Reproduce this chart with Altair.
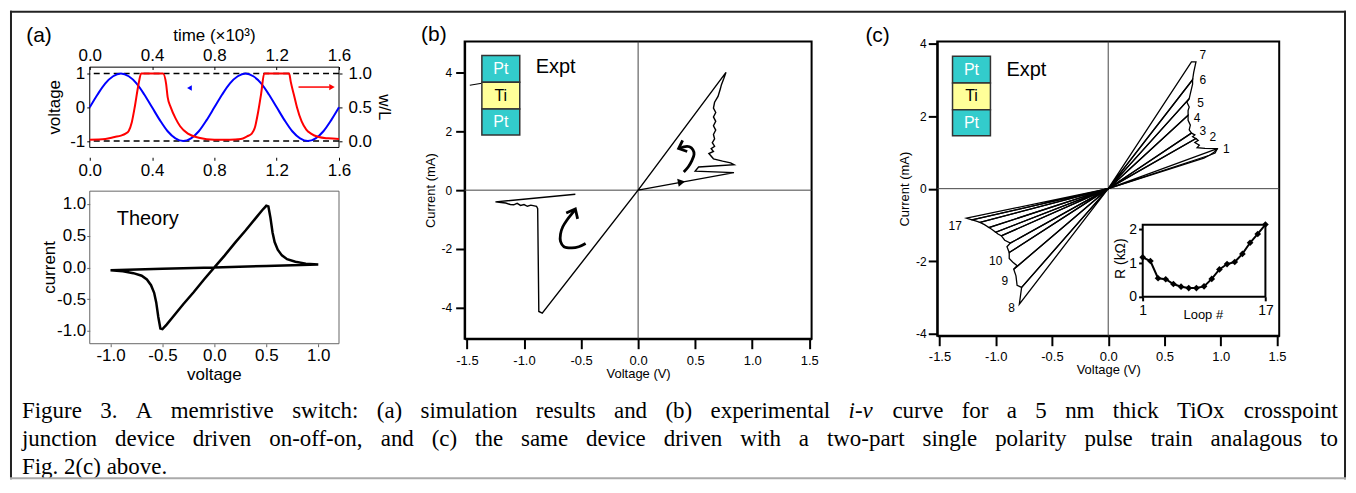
import altair as alt
import pandas as pd

SANS = "Liberation Sans"
SERIF = "Liberation Serif"

# ---------------- (a) upper: voltage and w/L versus time ----------------
t_blue = [0.0, 0.05, 0.1, 0.15, 0.2, 0.25, 0.3, 0.35, 0.4, 0.45, 0.5, 0.55, 0.6, 0.65, 0.7, 0.75, 0.8,
          0.85, 0.9, 0.95, 1.0, 1.05, 1.1, 1.15, 1.2, 1.25, 1.3, 1.35, 1.4, 1.45, 1.5, 1.55, 1.6]
v_blue = [0.0, 0.38, 0.71, 0.92, 1.0, 0.92, 0.71, 0.38, 0.0, -0.38, -0.71, -0.92, -1.0, -0.92, -0.71, -0.38, 0.0,
          0.38, 0.71, 0.92, 1.0, 0.92, 0.71, 0.38, 0.0, -0.38, -0.71, -0.92, -1.0, -0.92, -0.71, -0.38, 0.0]
t_red = [0.0, 0.1, 0.16, 0.2, 0.23, 0.25, 0.27, 0.29, 0.31, 0.33, 0.47, 0.49, 0.5, 0.52, 0.55, 0.58, 0.63, 0.7,
         0.8, 0.9, 0.97, 1.01, 1.04, 1.06, 1.08, 1.1, 1.12, 1.28, 1.29, 1.31, 1.33, 1.36, 1.39, 1.42, 1.47,
         1.53, 1.6]
w_red = [0.02, 0.03, 0.06, 0.08, 0.11, 0.15, 0.28, 0.52, 0.8, 1.0, 1.0, 0.85, 0.65, 0.5, 0.34, 0.22, 0.11, 0.05,
         0.02, 0.02, 0.03, 0.07, 0.11, 0.2, 0.42, 0.7, 1.0, 1.0, 0.88, 0.69, 0.5, 0.29, 0.17, 0.11, 0.06,
         0.04, 0.03]
a_guides = [-1.0, 1.0]
a_top_box_t = [0.0, 1.6]
a_top_box_v = [-1.19, 1.19]
blue_arrow_t = [0.64]
blue_arrow_v = [0.57]
red_arrow_t = [1.34, 1.54]
red_arrow_w = [0.80, 0.80]
red_head_t = [1.555]
red_head_w = [0.80]

# ---------------- (a) lower: theory i-v loop ----------------
th_v = [0.0, 0.1, 0.2, 0.3, 0.4, 0.46, 0.5, 0.52, 0.54, 0.56, 0.58, 0.61, 0.65, 0.7, 0.78, 0.88, 1.0,
        0.5, 0.0, -0.5, -1.0, -0.88, -0.78, -0.7, -0.65, -0.61, -0.58, -0.56, -0.54, -0.52, -0.5, -0.46,
        -0.4, -0.3, -0.2, -0.1, 0.0]
th_i = [0.0, 0.19, 0.39, 0.58, 0.78, 0.9, 0.97, 0.96, 0.78, 0.55, 0.4, 0.28, 0.19, 0.13, 0.09, 0.06, 0.045,
        0.022, 0.0, -0.022, -0.045, -0.06, -0.09, -0.13, -0.19, -0.28, -0.4, -0.55, -0.78, -0.96, -0.97, -0.9,
        -0.78, -0.58, -0.39, -0.19, 0.0]
a_bot_box = [-1.2, 1.2]

# ---------------- (b) experimental i-v ----------------
b_v = [0.0, 0.84, 0.50, 0.53, 0.84, 0.81, 0.74, 0.66, 0.62, 0.66, 0.64, 0.67, 0.65, 0.67, 0.66, 0.68, 0.66,
       0.68, 0.66, 0.68, 0.66, 0.67, 0.70, 0.72, 0.73, 0.75, 0.77, 0.0, -0.84, -0.87, -0.88, -0.89, -0.94,
       -0.97, -1.0, -1.03, -1.06, -1.09, -1.12, -1.16, -1.20, -1.25, -0.55]
b_i = [0.0, 0.60, 0.65, 0.79, 0.87, 0.93, 0.99, 1.07, 1.25, 1.32, 1.42, 1.50, 1.62, 1.75, 1.90, 2.05, 2.20,
       2.35, 2.50, 2.65, 2.80, 3.00, 3.20, 3.45, 3.60, 3.80, 4.02, 0.0, -4.20, -4.14, -0.63, -0.55, -0.51,
       -0.55, -0.49, -0.52, -0.45, -0.50, -0.49, -0.44, -0.42, -0.40, -0.14]
b_head_v = [0.38]
b_head_i = [0.275]
arrow_id = [1, 1, 1, 1, 1, 1, 1, 1, 2, 2, 2, 2, 2, 2, 2, 2, 2, 2]
arrow_v = [0.40, 0.44, 0.47, 0.49, 0.48, 0.45, 0.40, 0.36,
           -0.46, -0.52, -0.58, -0.65, -0.68, -0.68, -0.66, -0.62, -0.58, -0.55]
arrow_i = [0.62, 0.80, 1.00, 1.22, 1.38, 1.48, 1.48, 1.42,
           -1.82, -1.93, -1.97, -1.93, -1.75, -1.50, -1.25, -1.00, -0.80, -0.66]
barb_id = [1, 1, 1, 2, 2, 2]
barb_v = [0.39, 0.355, 0.43, -0.63, -0.55, -0.53]
barb_i = [1.70, 1.42, 1.32, -0.78, -0.64, -0.98]
lead_v = [-1.475, -1.37]
lead_i = [3.58, 3.65]

layer_names = ["Pt", "Ti", "Pt"]
b_layer_lo = [3.68, 2.77, 1.88]
b_layer_hi = [4.60, 3.68, 2.77]
b_layer_x = [-1.369, -1.037]
c_layer_lo = [2.91, 2.17, 1.46]
c_layer_hi = [3.65, 2.91, 2.17]
c_layer_x = [-1.384, -1.047]

# ---------------- (c) pulse-train loops ----------------
c_loops_v = [
    [0, 0.85, 0.90, 0.94, 0.97, 0],
    [0, 0.90, 0.95, 0.97, 0.86, 0.79, 0.81, 0.77, 0.80, 0.78, 0],
    [0, 0.78, 0.75, 0.77, 0.74, 0],
    [0, 0.74, 0.72, 0.73, 0.71, 0.71, 0],
    [0, 0.71, 0.71, 0.72, 0.70, 0.72, 0],
    [0, 0.72, 0.73, 0.74, 0.75, 0.75, 0],
    [0, 0.75, 0.76, 0.77, 0.78, 0.74, 0],
    [0, -0.79, -0.77, 0],
    [0, -0.77, -0.81, -0.82, -0.84, 0],
    [0, -0.84, -0.81, -0.85, -0.88, -0.88, 0],
    [0, -0.88, -0.90, -0.87, 0],
    [0, -0.87, -0.92, -0.95, 0],
    [0, -0.95, -0.98, -1.00, 0],
    [0, -1.00, -1.03, -1.06, 0],
    [0, -1.06, -1.10, -1.14, 0],
    [0, -1.14, -1.18, -1.21, 0],
    [0, -1.21, -1.24, -1.26, 0],
]
c_loops_i = [
    [0, 0.84, 0.92, 1.00, 1.10, 0],
    [0, 0.92, 0.98, 1.10, 1.11, 1.13, 1.20, 1.27, 1.33, 1.38, 0],
    [0, 1.38, 1.43, 1.48, 1.53, 0],
    [0, 1.53, 1.62, 1.75, 1.88, 2.02, 0],
    [0, 2.02, 2.15, 2.25, 2.38, 2.48, 0],
    [0, 2.48, 2.62, 2.75, 2.88, 3.00, 0],
    [0, 3.00, 3.20, 3.35, 3.49, 3.49, 0],
    [0, -3.18, -2.72, 0],
    [0, -2.72, -2.66, -2.40, -2.22, 0],
    [0, -2.22, -2.12, -2.02, -1.92, -1.76, 0],
    [0, -1.76, -1.60, -1.50, 0],
    [0, -1.50, -1.42, -1.30, 0],
    [0, -1.30, -1.25, -1.20, 0],
    [0, -1.20, -1.13, -1.07, 0],
    [0, -1.07, -0.99, -0.93, 0],
    [0, -0.93, -0.89, -0.86, 0],
    [0, -0.86, -0.83, -0.81, 0],
]
loop_labels = ["1", "2", "3", "4", "5", "6", "7", "8", "9", "10", "17"]
loop_label_v = [1.05, 0.93, 0.84, 0.79, 0.82, 0.84, 0.84, -0.86, -0.92, -1.0, -1.36]
loop_label_i = [1.10, 1.43, 1.58, 1.95, 2.36, 2.99, 3.69, -3.30, -2.55, -1.98, -1.02]

loop_no = list(range(1, 18))
loop_R = [1.17, 1.06, 0.55, 0.52, 0.38, 0.30, 0.26, 0.26, 0.31, 0.53, 0.81, 0.97, 1.03, 1.27, 1.60, 1.86, 2.14]
inset_box_x = [1, 17]
inset_box_y = [0, 2.13]

caption = [
    "Figure 3. A memristive switch: (a) simulation results and (b) experimental i-v curve for a 5 nm thick TiOx crosspoint",
    "junction device driven on-off-on, and (c) the same device driven with a two-part single polarity pulse train analagous to",
    "Fig. 2(c) above.",
]
italic_words = ["i-v"]

# =====================================================================
# Secondary layers leave the axis unset (axis=None in any layer would
# disable the merged axis of a shared scale).
ONE = alt.Data(values=[{"one": 1}])


def txt(df, xs, ys, size, **kw):
    return alt.Chart(df).mark_text(font=SANS, fontSize=size, color="black", **kw).encode(
        x=alt.X("x:Q", scale=xs), y=alt.Y("y:Q", scale=ys), text="s:N")


def box(xr, yr, xs, ys, color, width):
    df = pd.DataFrame({"x1": [xr[0]], "x2": [xr[1]], "y1": [yr[0]], "y2": [yr[1]]})
    return alt.Chart(df).mark_rect(fill="transparent", stroke=color, strokeWidth=width).encode(
        x=alt.X("x1:Q", scale=xs), x2="x2:Q", y=alt.Y("y1:Q", scale=ys), y2="y2:Q")


# ---------- panel (a): one 250 x 303 view holding both sub-plots ----------
# upper plot occupies rows 28..116 px, lower plot rows 150..303 px of the view
XT = alt.Scale(domain=[0, 1.6], nice=False, zero=False)
YV = alt.Scale(domain=[-7.006, 1.947], nice=False, zero=False)
YW = alt.Scale(domain=[-3.003, 1.4735], nice=False, zero=False)
XA = alt.Scale(domain=[-1.2, 1.2], nice=False, zero=False)
YA = alt.Scale(domain=[-1.2, 3.553], nice=False, zero=False)
tvals = [0, 0.4, 0.8, 1.2, 1.6]
AFS = 17

a_frame = box(a_top_box_t, a_top_box_v, XT, YV, "black", 1)
a_dash = alt.Chart(pd.DataFrame({"v": a_guides})).mark_rule(
    color="black", strokeWidth=1.5, strokeDash=[6, 4]).encode(y=alt.Y("v:Q", scale=YV))
a_blue = alt.Chart(pd.DataFrame({"t": t_blue, "v": v_blue})).mark_line(
    color="#0000FF", strokeWidth=2, interpolate="monotone").encode(
    x=alt.X("t:Q", scale=XT, axis=alt.Axis(orient="top", offset=-28, values=tvals, format=".1f",
                                           title=None, labelFontSize=AFS, tickSize=3, labelPadding=2,
                                           domain=False)),
    y=alt.Y("v:Q", scale=YV, axis=alt.Axis(orient="left", values=[-1, 0, 1], format="d", title=None,
                                           labelFontSize=AFS, tickSize=3, labelPadding=2, domain=False)))
a_barrow = alt.Chart(pd.DataFrame({"t": blue_arrow_t, "v": blue_arrow_v})).mark_point(
    shape="triangle-left", filled=True, color="#0000FF", size=30, opacity=1).encode(
    x=alt.X("t:Q", scale=XT), y=alt.Y("v:Q", scale=YV))
a_ttitle = txt(pd.DataFrame({"x": [0.8], "y": [2.109], "s": ["time (×10³)"]}), XT, YV, AFS, baseline="middle")
a_tag = txt(pd.DataFrame({"x": [-0.326], "y": [2.109], "s": ["(a)"]}), XT, YV, 21, baseline="middle")
a_ytitle = txt(pd.DataFrame({"x": [-0.224], "y": [0.0], "s": ["voltage"]}), XT, YV, AFS,
               angle=270, baseline="middle")
a_wtitle = txt(pd.DataFrame({"x": [1.888], "y": [0.0], "s": ["w/L"]}), XT, YV, AFS,
               angle=90, baseline="middle")
a_left = alt.layer(a_frame, a_dash, a_blue, a_barrow, a_ttitle, a_tag, a_ytitle, a_wtitle)

a_red = alt.Chart(pd.DataFrame({"t": t_red, "w": w_red})).mark_line(
    color="#FF0000", strokeWidth=2, interpolate="monotone").encode(
    x=alt.X("t:Q", scale=XT, axis=alt.Axis(orient="bottom", offset=-187, values=tvals, format=".1f",
                                           title=None, labelFontSize=AFS, tickSize=3, labelPadding=2,
                                           domain=False)),
    y=alt.Y("w:Q", scale=YW, axis=alt.Axis(orient="right", values=[0, 0.5, 1], format=".1f",
                                           title=None, labelFontSize=AFS, tickSize=3, labelPadding=6,
                                           domain=False)))
a_rline = alt.Chart(pd.DataFrame({"t": red_arrow_t, "w": red_arrow_w})).mark_line(
    color="#FF0000", strokeWidth=1.5).encode(x=alt.X("t:Q", scale=XT), y=alt.Y("w:Q", scale=YW))
a_rhead = alt.Chart(pd.DataFrame({"t": red_head_t, "w": red_head_w})).mark_point(
    shape="triangle-right", filled=True, color="#FF0000", size=40, opacity=1).encode(
    x=alt.X("t:Q", scale=XT), y=alt.Y("w:Q", scale=YW))
a_right = alt.layer(a_red, a_rline, a_rhead)

th_df = pd.DataFrame({"v": th_v, "i": th_i, "k": list(range(len(th_v)))})
a_frame2 = box(a_bot_box, a_bot_box, XA, YA, "#666", 1)
a_theory = alt.Chart(th_df).mark_line(color="black", strokeWidth=2.5).encode(
    x=alt.X("v:Q", scale=XA, axis=alt.Axis(orient="bottom", values=[-1, -0.5, 0, 0.5, 1], format=".1f",
                                           title=None, labelFontSize=AFS, tickSize=3, labelPadding=1,
                                           domain=False, tickColor="#666")),
    y=alt.Y("i:Q", scale=YA, axis=alt.Axis(orient="left", values=[-1, -0.5, 0, 0.5, 1], format=".1f",
                                           title=None, labelFontSize=AFS, tickSize=3, labelPadding=1,
                                           domain=False, tickColor="#666")),
    order="k:Q")
a_theory_txt = txt(pd.DataFrame({"x": [-0.94], "y": [0.76], "s": ["Theory"]}), XA, YA, 20,
                   align="left", baseline="middle")
a_cur = txt(pd.DataFrame({"x": [-1.584], "y": [0.0], "s": ["current"]}), XA, YA, AFS,
            angle=270, baseline="middle")
a_vol = txt(pd.DataFrame({"x": [0.0], "y": [-1.70], "s": ["voltage"]}), XA, YA, AFS, baseline="middle")
a_lower = alt.layer(a_frame2, a_theory, a_theory_txt, a_cur, a_vol)

# ---------- caption (justified, Times metrics) and figure frame ----------
TW = {" ": 250, "(": 333, ")": 333, ",": 250, "-": 333, ".": 250, ":": 278, "0": 500, "2": 500, "3": 500,
      "5": 500, "A": 722, "F": 556, "O": 722, "T": 611, "a": 444, "b": 500, "c": 444, "d": 500, "e": 444,
      "f": 333, "g": 500, "h": 500, "i": 278, "j": 278, "k": 500, "l": 278, "m": 778, "n": 500, "o": 500,
      "p": 500, "r": 333, "s": 389, "t": 278, "u": 500, "v": 500, "w": 722, "x": 500, "y": 500, "z": 444}
CAP_FS = 23
CAP_LEFT, CAP_RIGHT = 20 - 88, 1340 - 88
CAP_ROWS = [371, 399, 427]
words = []
for li, line in enumerate(caption):
    ws = line.split(" ")
    wid = [sum(TW.get(ch, 500) for ch in w) / 1000 * CAP_FS for w in ws]
    if li < len(caption) - 1:
        gap = (CAP_RIGHT - CAP_LEFT - sum(wid)) / (len(ws) - 1)
    else:
        gap = 0.25 * CAP_FS
    xpos = CAP_LEFT
    for w, wd in zip(ws, wid):
        words.append({"w": w, "px": xpos, "py": CAP_ROWS[li], "it": w in italic_words})
        xpos += wd + gap
words_df = pd.DataFrame(words)
cap_norm = alt.Chart(words_df).transform_filter("!datum.it").mark_text(
    align="left", baseline="middle", font=SERIF, fontSize=CAP_FS, color="black").encode(
    x=alt.X("px:Q", scale=None), y=alt.Y("py:Q", scale=None), text="w:N")
cap_ital = alt.Chart(words_df).transform_filter("datum.it").mark_text(
    align="left", baseline="middle", font=SERIF, fontSize=CAP_FS, fontStyle="italic", color="black").encode(
    x=alt.X("px:Q", scale=None), y=alt.Y("py:Q", scale=None), text="w:N")
f_top = alt.Chart(ONE).mark_rule(color="#222", strokeWidth=2).encode(
    x=alt.value(-80), x2=alt.value(1260), y=alt.value(-30))
f_left = alt.Chart(ONE).mark_rule(color="#222", strokeWidth=2).encode(
    x=alt.value(-79), y=alt.value(-31), y2=alt.value(439))
f_right = alt.Chart(ONE).mark_rule(color="#222", strokeWidth=2).encode(
    x=alt.value(1259), y=alt.value(-31), y2=alt.value(439))
f_bot = alt.Chart(ONE).mark_rule(color="#aaa", strokeWidth=2).encode(
    x=alt.value(-80), x2=alt.value(1260), y=alt.value(438))
a_caption = alt.layer(cap_norm, cap_ital, f_top, f_left, f_right, f_bot)

panel_a = alt.layer(a_left, a_right, a_lower, a_caption).resolve_scale(
    x="independent", y="independent").properties(width=250, height=303)


# ---------- shared pieces for (b) and (c) ----------
def axes(xpad, ypad):
    ax = alt.Axis(values=[-1.5, -1, -0.5, 0, 0.5, 1, 1.5], format=".1f", title="Voltage (V)",
                  labelFontSize=13, titleFontSize=13, tickSize=10, tickWidth=2, domainWidth=2,
                  labelPadding=xpad, titlePadding=0)
    ay = alt.Axis(values=[-4, -2, 0, 2, 4], format="d", title="Current (mA)",
                  labelFontSize=12, titleFontSize=13, tickSize=9, tickWidth=2, domainWidth=2,
                  labelPadding=ypad, titlePadding=4)
    return ax, ay


def zero_lines(xs, ys):
    z = pd.DataFrame({"z": [0]})
    h = alt.Chart(z).mark_rule(color="#444", strokeWidth=1).encode(y=alt.Y("z:Q", scale=ys))
    v = alt.Chart(z).mark_rule(color="#444", strokeWidth=1).encode(x=alt.X("z:Q", scale=xs))
    return h, v


def stack(xs, ys, lo, hi, xr):
    df = pd.DataFrame({"name": layer_names, "lo": lo, "hi": hi, "x1": [xr[0]] * 3, "x2": [xr[1]] * 3})
    rect = alt.Chart(df).mark_rect(stroke="#333", strokeWidth=1.5).encode(
        x=alt.X("x1:Q", scale=xs), x2="x2:Q", y=alt.Y("lo:Q", scale=ys), y2="hi:Q",
        fill=alt.condition("datum.name == 'Ti'", alt.value("#FFFF99"), alt.value("#33CCCC")))
    lbl = alt.Chart(df).transform_calculate(
        xm="(datum.x1 + datum.x2) / 2", ym="(datum.lo + datum.hi) / 2").mark_text(
        font=SANS, fontSize=16, baseline="middle").encode(
        x=alt.X("xm:Q", scale=xs), y=alt.Y("ym:Q", scale=ys), text="name:N",
        color=alt.condition("datum.name == 'Ti'", alt.value("black"), alt.value("white")))
    return rect, lbl


# ---------- panel (b) ----------
XB = alt.Scale(domain=[-1.52, 1.52], nice=False, zero=False)
YB = alt.Scale(domain=[-5.07, 5.07], nice=False, zero=False)
axbx, axby = axes(6, 4)
bh, bv = zero_lines(XB, YB)
b_df = pd.DataFrame({"v": b_v, "i": b_i, "k": list(range(len(b_v)))})
b_curve = alt.Chart(b_df).mark_line(color="black", strokeWidth=1.4).encode(
    x=alt.X("v:Q", scale=XB, axis=axbx), y=alt.Y("i:Q", scale=YB, axis=axby), order="k:Q")
b_head = alt.Chart(pd.DataFrame({"v": b_head_v, "i": b_head_i})).mark_point(
    shape="triangle-right", filled=True, color="black", size=70, opacity=1, angle=349.5).encode(
    x=alt.X("v:Q", scale=XB), y=alt.Y("i:Q", scale=YB))
arr_df = pd.DataFrame({"g": arrow_id, "v": arrow_v, "i": arrow_i, "k": list(range(len(arrow_v)))})
b_arrows = alt.Chart(arr_df).mark_line(color="black", strokeWidth=2.8, interpolate="catmull-rom").encode(
    x=alt.X("v:Q", scale=XB), y=alt.Y("i:Q", scale=YB), detail="g:N", order="k:Q")
barb_df = pd.DataFrame({"g": barb_id, "v": barb_v, "i": barb_i, "k": list(range(len(barb_v)))})
b_barbs = alt.Chart(barb_df).mark_line(color="black", strokeWidth=2.8).encode(
    x=alt.X("v:Q", scale=XB), y=alt.Y("i:Q", scale=YB), detail="g:N", order="k:Q")
b_lead = alt.Chart(pd.DataFrame({"v": lead_v, "i": lead_i})).mark_line(color="black", strokeWidth=1.2).encode(
    x=alt.X("v:Q", scale=XB), y=alt.Y("i:Q", scale=YB))
b_rect, b_lbl = stack(XB, YB, b_layer_lo, b_layer_hi, b_layer_x)
b_expt = txt(pd.DataFrame({"x": [-0.897], "y": [4.2], "s": ["Expt"]}), XB, YB, 20, align="left")
b_tag = txt(pd.DataFrame({"x": [-1.79], "y": [5.28], "s": ["(b)"]}), XB, YB, 21)
panel_b = alt.layer(bh, bv, b_curve, b_head, b_arrows, b_barbs, b_lead, b_rect, b_lbl, b_expt, b_tag).properties(
    width=348, height=298, view=alt.ViewBackground(stroke="black", strokeWidth=2))

# ---------- panel (c) ----------
XC = alt.Scale(domain=[-1.52, 1.52], nice=False, zero=False)
YC = alt.Scale(domain=[-4.05, 4.05], nice=False, zero=False)
axcx, axcy = axes(5, 2)
ch, cv = zero_lines(XC, YC)
rows = []
for n, (vs, cs) in enumerate(zip(c_loops_v, c_loops_i), start=1):
    for k, (vv, cc) in enumerate(zip(vs, cs)):
        rows.append({"loop": n, "k": k, "v": vv, "i": cc})
c_df = pd.DataFrame(rows)
c_curves = alt.Chart(c_df).mark_line(color="black", strokeWidth=1.3).encode(
    x=alt.X("v:Q", scale=XC, axis=axcx), y=alt.Y("i:Q", scale=YC, axis=axcy), detail="loop:N", order="k:Q")
c_nums = txt(pd.DataFrame({"x": loop_label_v, "y": loop_label_i, "s": loop_labels}), XC, YC, 12)
c_rect, c_lbl = stack(XC, YC, c_layer_lo, c_layer_hi, c_layer_x)
c_expt = txt(pd.DataFrame({"x": [-0.905], "y": [3.27], "s": ["Expt"]}), XC, YC, 20, align="left")
c_tag = txt(pd.DataFrame({"x": [-2.05], "y": [4.2], "s": ["(c)"]}), XC, YC, 21)
c_main = alt.layer(ch, cv, c_curves, c_nums, c_rect, c_lbl, c_expt, c_tag)

XI = alt.Scale(domain=[-25.8, 18.8], nice=False, zero=False)
YI = alt.Scale(domain=[-1.15, 7.55], nice=False, zero=False)
ins_box = alt.Chart(pd.DataFrame({"x1": [inset_box_x[0]], "x2": [inset_box_x[1]],
                                  "y1": [inset_box_y[0]], "y2": [inset_box_y[1]]})).mark_rect(
    fill="white", stroke="black", strokeWidth=2).encode(
    x=alt.X("x1:Q", scale=XI), x2="x2:Q", y=alt.Y("y1:Q", scale=YI), y2="y2:Q")
ins_df = pd.DataFrame({"n": loop_no, "R": loop_R})
ins_line = alt.Chart(ins_df).mark_line(color="black", strokeWidth=2).encode(
    x=alt.X("n:Q", scale=XI, axis=alt.Axis(orient="bottom", offset=-39, values=[1, 17], domain=False,
                                           tickSize=4, tickWidth=2, labelFontSize=14, labelPadding=3,
                                           title=None)),
    y=alt.Y("R:Q", scale=YI, axis=alt.Axis(orient="left", offset=-206, values=[0, 1, 2], domain=False,
                                           tickSize=4, tickWidth=2, labelFontSize=14, labelPadding=2,
                                           title=None)))
ins_pts = alt.Chart(ins_df).mark_point(shape="diamond", filled=True, color="black", size=45, opacity=1).encode(
    x=alt.X("n:Q", scale=XI), y=alt.Y("R:Q", scale=YI))
ins_loop = txt(pd.DataFrame({"x": [8.9], "y": [-0.53], "s": ["Loop #"]}), XI, YI, 13)
ins_R = txt(pd.DataFrame({"x": [-1.86], "y": [1.13], "s": ["R (kΩ)"]}), XI, YI, 14, angle=270)
c_inset = alt.layer(ins_box, ins_line, ins_pts, ins_loop, ins_R)

panel_c = alt.layer(c_main, c_inset).resolve_scale(x="independent", y="independent").properties(
    width=343, height=295, view=alt.ViewBackground(stroke="black", strokeWidth=2))

chart = alt.hconcat(panel_a, panel_b, panel_c, spacing=126, bounds="flush").properties(padding=0).configure(
    font=SANS,
    locale={"number": {"decimal": ".", "thousands": ",", "grouping": [3], "currency": ["$", ""], "minus": "-"}},
).configure_view(stroke="transparent").configure_axis(
    labelFont=SANS, titleFont=SANS, labelColor="black", titleColor="black", tickColor="black",
    domainColor="black", titleFontWeight="normal", grid=False, labelFlush=False)

chart.save("out.html", embed_options={"renderer": "svg", "actions": False})
